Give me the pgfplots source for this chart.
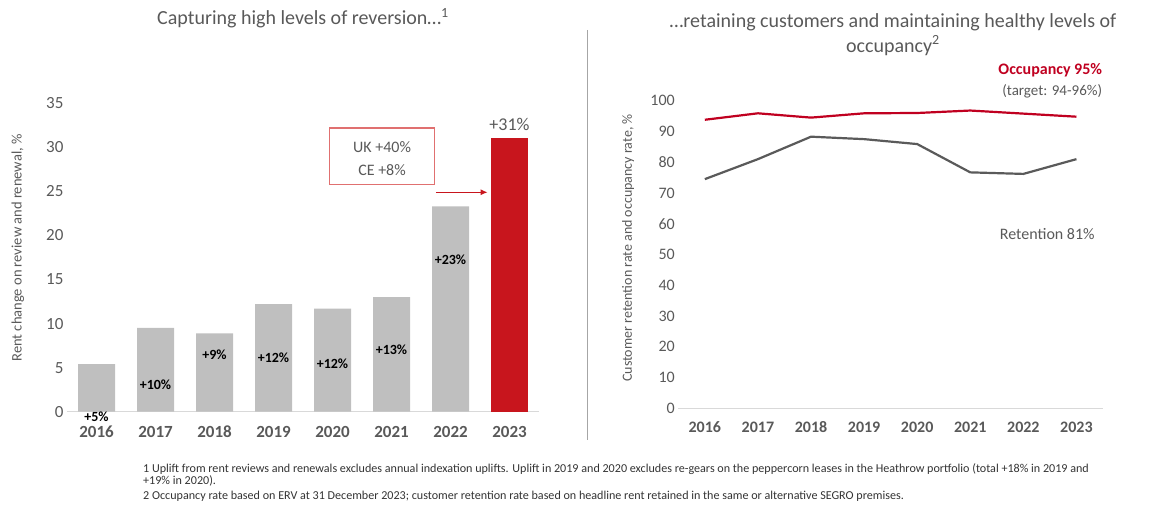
\documentclass[border=0pt]{standalone}
\usepackage{fontspec}
\setmainfont{Carlito}
\usepackage{pgfplots}
\pgfplotsset{compat=1.18}
\usetikzlibrary{arrows.meta}
\definecolor{bargray}{HTML}{BFBFBF}
\definecolor{segred}{HTML}{C8151D}
\definecolor{boxred}{HTML}{E07070}
\definecolor{txtgray}{HTML}{595959}
\definecolor{linegray}{HTML}{D9D9D9}
\definecolor{occred}{HTML}{C00020}
\definecolor{retgray}{HTML}{5A5A5A}
\definecolor{divgray}{HTML}{A6A6A6}
\newcommand{\fs}[1]{\fontsize{#1}{#1}\selectfont}
\begin{document}
\begin{tikzpicture}[x=1pt,y=1pt]
\useasboundingbox (0,0) rectangle (1162,506);
% ---------- left chart ----------
\begin{axis}[at={(67pt,94.3pt)}, anchor=south west, scale only axis,
  width=472pt, height=308.4pt,
  xmin=-0.5, xmax=7.5, ymin=0, ymax=35,
  ytick={0,5,...,35}, xtick={0,1,2,3,4,5,6,7},
  xticklabels={2016,2017,2018,2019,2020,2021,2022,2023},
  axis line style={draw=none}, tick style={draw=none},
  /pgf/number format/assume math mode=true,
  yticklabel style={font=\fs{17}, text=txtgray},
  xticklabel style={font=\bfseries\fs{17}, text=txtgray, yshift=-11pt},
  ylabel={Rent change on review and renewal, \%},
  ylabel style={font=\fs{14.5}, text=txtgray, at={(axis description cs:-0.104,0.531)}, anchor=center},
  clip=false]
\draw[linegray, line width=1.2pt] (axis cs:-0.5,0) -- (axis cs:7.5,0);
\addplot[ybar, bar width=37pt, bar shift=0pt, fill=bargray, draw=none]
  coordinates {(0,5.4) (1,9.5) (2,8.9) (3,12.2) (4,11.7) (5,13.0) (6,23.3)};
\addplot[ybar, bar width=37pt, bar shift=0pt, fill=segred, draw=none]
  coordinates {(7,31.1)};
\node[font=\bfseries\fs{14}] at (axis cs:0,-0.55) {+5\%};
\node[font=\bfseries\fs{14}] at (axis cs:1,3.1) {+10\%};
\node[font=\bfseries\fs{14}] at (axis cs:2,6.5) {+9\%};
\node[font=\bfseries\fs{14}] at (axis cs:3,6.1) {+12\%};
\node[font=\bfseries\fs{14}] at (axis cs:4,5.5) {+12\%};
\node[font=\bfseries\fs{14}] at (axis cs:5,7.0) {+13\%};
\node[font=\bfseries\fs{14}] at (axis cs:6,17.2) {+23\%};
\node[font=\fs{18}, text=txtgray] at (axis cs:7,32.6) {+31\%};
\draw[boxred, line width=1.2pt] (axis cs:3.95,25.8) rectangle (axis cs:5.73,32.2);
\node[font=\fs{16}, text=txtgray] at (axis cs:4.84,30.0) {UK +40\%};
\node[font=\fs{16}, text=txtgray] at (axis cs:4.84,27.4) {CE +8\%};
\draw[segred, line width=1.2pt, -{Latex[length=7pt,width=6pt]}] (axis cs:5.75,24.9) -- (axis cs:6.63,24.9);
\end{axis}
% ---------- right chart ----------
\begin{axis}[at={(678.3pt,97.7pt)}, anchor=south west, scale only axis,
  width=424.7pt, height=307.6pt,
  xmin=-0.5, xmax=7.5, ymin=0, ymax=100,
  ytick={0,10,...,100}, xtick={0,1,2,3,4,5,6,7},
  xticklabels={2016,2017,2018,2019,2020,2021,2022,2023},
  axis line style={draw=none}, tick style={draw=none},
  /pgf/number format/assume math mode=true,
  yticklabel style={font=\fs{16}, text=txtgray},
  xticklabel style={font=\bfseries\fs{16}, text=txtgray, yshift=-10pt},
  ylabel={Customer retention rate and occupancy rate, \%},
  ylabel style={font=\fs{14}, text=txtgray, at={(axis description cs:-0.118,0.521)}, anchor=center},
  clip=false]
\draw[linegray, line width=1.2pt] (axis cs:-0.5,0) -- (axis cs:7.5,0);
\addplot[occred, line width=2.2pt, mark=none]
  coordinates {(0,93.8) (1,95.9) (2,94.5) (3,95.9) (4,96.0) (5,96.8) (6,95.8) (7,94.8)};
\addplot[retgray, line width=2.2pt, mark=none]
  coordinates {(0,74.5) (1,81.0) (2,88.3) (3,87.5) (4,85.9) (5,76.7) (6,76.2) (7,81.0)};
\node[font=\bfseries\fs{16}, text=occred, anchor=east] at (axis cs:7.55,109.8) {Occupancy 95\%};
\node[font=\fs{15}, text=txtgray, anchor=east] at (axis cs:7.55,102.9) {(target: 94-96\%)};
\node[font=\fs{16}, text=txtgray] at (axis cs:6.45,56.7) {Retention 81\%};
\end{axis}
% ---------- titles, divider, footnotes ----------
\draw[divgray, line width=1pt] (587.3,476) -- (587.3,66);
\node[font=\fs{20}, text=txtgray] at (303,488) {Capturing high levels of reversion…\textsuperscript{1}};
\node[font=\fontsize{20}{25}\selectfont, text=txtgray, align=center] at (893,471.5)
  {…retaining customers and maintaining healthy levels of\\occupancy\textsuperscript{2}};
\node[font=\fs{12.1}, text=black!80, anchor=west, inner sep=0pt] at (143,37)
  {1 Uplift from rent reviews and renewals excludes annual indexation uplifts. Uplift in 2019 and 2020 excludes re-gears on the peppercorn leases in the Heathrow portfolio (total +18\% in 2019 and};
\node[font=\fs{12.1}, text=black!80, anchor=west, inner sep=0pt] at (143,25) {+19\% in 2020).};
\node[font=\fs{12.1}, text=black!80, anchor=west, inner sep=0pt] at (143,10)
  {2 Occupancy rate based on ERV at 31 December 2023; customer retention rate based on headline rent retained in the same or alternative SEGRO premises.};
\end{tikzpicture}
\end{document}
